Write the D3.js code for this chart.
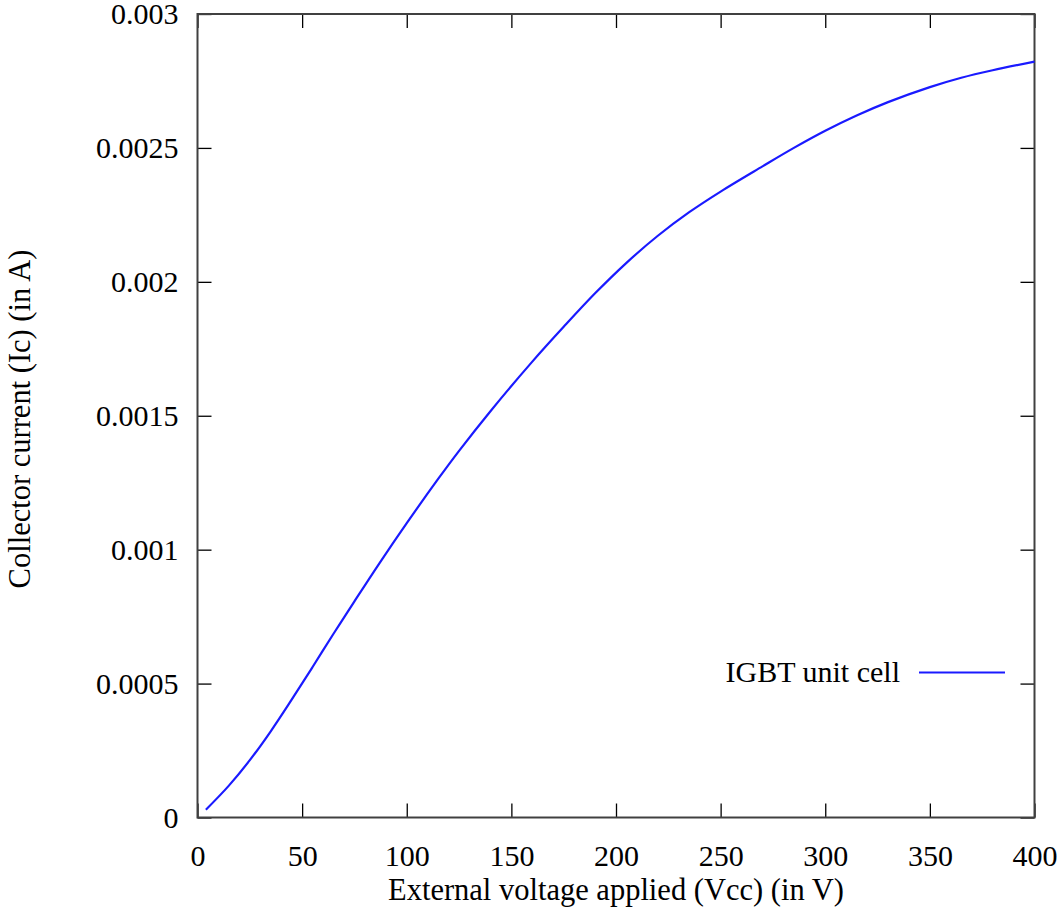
<!DOCTYPE html>
<html>
<head>
<meta charset="utf-8">
<script src="https://cdn.jsdelivr.net/npm/d3@7"></script>
<style>
  html, body { margin: 0; padding: 0; background: #fff; }
  svg { display: block; }
  text { font-family: "Liberation Serif", "Times New Roman", serif; fill: #000; }
</style>
</head>
<body>
<svg id="chart" width="1061" height="909"></svg>
<script>
// ---- data ----
const voltage = [4, 15, 25, 35, 45, 55, 65, 75, 87, 100, 115, 125, 140, 160, 175, 190, 205, 220, 235, 250, 270, 285, 300, 315, 330, 350, 365, 380, 400];
const current = [0.000029, 0.000119, 0.000214, 0.000322, 0.000440, 0.000562, 0.000686, 0.000807, 0.000950, 0.001099, 0.001264, 0.001369, 0.001517, 0.001702, 0.001832, 0.001957, 0.002071, 0.002172, 0.002260, 0.002337, 0.002431, 0.002500, 0.002564, 0.002621, 0.002671, 0.002727, 0.002762, 0.002790, 0.002822];
const xTicks = [0, 50, 100, 150, 200, 250, 300, 350, 400];
const yTicks = [0, 0.0005, 0.001, 0.0015, 0.002, 0.0025, 0.003];
const yTickLabels = ["0", "0.0005", "0.001", "0.0015", "0.002", "0.0025", "0.003"];
const seriesName = "IGBT unit cell";
const xTitle = "External voltage applied (Vcc) (in V)";
const yTitle = "Collector current (Ic) (in A)";

const svg = d3.select("#chart");
const L = 197.5, R = 1034.5, T = 14, B = 817.5;
const fontSize = 30;
const titleSize = 30.5;
const tickLen = 14;
const frameColor = "#404040";
const lineColor = "#1a1aff";

const x = d3.scaleLinear().domain([0, 400]).range([L, R]);
const y = d3.scaleLinear().domain([0, 0.003]).range([B, T]);

// ticks on all four sides (inward)
const g = svg.append("g");
function styleAxis(sel) {
  sel.select(".domain").remove();
  sel.selectAll(".tick line").attr("stroke", "#000").attr("stroke-width", 1.3);
}
g.append("g").attr("transform", `translate(0,${B})`)
  .call(d3.axisBottom(x).tickValues(xTicks).tickSize(-tickLen).tickPadding(27).tickFormat(d3.format("d")))
  .call(styleAxis)
  .call(s => s.selectAll("text").attr("font-size", fontSize).attr("font-family", "Liberation Serif").attr("fill", "#000"));
g.append("g").attr("transform", `translate(0,${T})`)
  .call(d3.axisTop(x).tickValues(xTicks).tickSize(-tickLen).tickFormat(""))
  .call(styleAxis);
g.append("g").attr("transform", `translate(${L},0)`)
  .call(d3.axisLeft(y).tickValues(yTicks).tickSize(-tickLen).tickPadding(19).tickFormat((d, i) => yTickLabels[i]))
  .call(styleAxis)
  .call(s => s.selectAll("text").attr("font-size", fontSize).attr("font-family", "Liberation Serif").attr("fill", "#000"));
g.append("g").attr("transform", `translate(${R},0)`)
  .call(d3.axisRight(y).tickValues(yTicks).tickSize(-tickLen).tickFormat(""))
  .call(styleAxis);

// frame
svg.append("rect").attr("x", L).attr("y", T).attr("width", R - L).attr("height", B - T)
  .attr("fill", "none").attr("stroke", frameColor).attr("stroke-width", 2);

// curve
const data = voltage.map((v, i) => ({ v, c: current[i] }));
svg.append("path").datum(data)
  .attr("fill", "none").attr("stroke", lineColor).attr("stroke-width", 2.2)
  .attr("d", d3.line().x(d => x(d.v)).y(d => y(d.c)).curve(d3.curveCatmullRom.alpha(0.5)));

// legend
svg.append("text").attr("x", 900).attr("y", 682).attr("text-anchor", "end")
  .attr("font-size", fontSize).text(seriesName);
svg.append("line").attr("x1", 919).attr("x2", 1005).attr("y1", 672.5).attr("y2", 672.5)
  .attr("stroke", lineColor).attr("stroke-width", 2.2);

// axis titles
svg.append("text").attr("x", 616).attr("y", 900).attr("text-anchor", "middle")
  .attr("font-size", titleSize).text(xTitle);
svg.append("text").attr("transform", `translate(30,419) rotate(-90)`)
  .attr("text-anchor", "middle").attr("font-size", titleSize).text(yTitle);
</script>
</body>
</html>
